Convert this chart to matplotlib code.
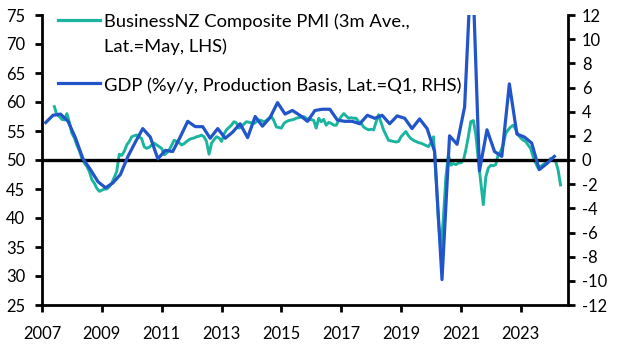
import matplotlib
matplotlib.use('Agg')
import matplotlib.dates as mdates
import matplotlib.pyplot as plt
import pandas as pd

plt.rcParams['font.family'] = ['Lato', 'DejaVu Sans']
plt.rcParams['font.size'] = 11.9
plt.rcParams['axes.unicode_minus'] = False

TEAL = '#1bb59f'
BLUE = '#2255c9'

# ==== BusinessNZ composite PMI, 3m average, monthly from Jun 2007 to May 2024
pmi_2007 = [59.2, 57.8, 57.5, 57.0, 56.9, 58.0, 56.5]
pmi_2008 = [54.6, 53.8, 52.6, 51.6, 50.3, 49.5, 48.9, 48.0, 46.6, 46.0, 45.1, 44.6]
pmi_2009 = [44.8, 45.0, 45.0, 45.4, 46.0, 47.0, 48.0, 51.0, 50.8, 51.5, 52.6, 53.2]
pmi_2010 = [54.0, 54.2, 54.3, 54.0, 53.7, 52.3, 52.0, 52.2, 52.6, 52.9, 52.6, 52.3]
pmi_2011 = [52.0, 50.9, 51.2, 51.7, 52.5, 53.4, 53.2, 53.0, 52.6, 52.8, 53.2, 53.5]
pmi_2012 = [53.7, 53.8, 54.0, 54.1, 54.3, 54.0, 53.2, 51.0, 52.9, 53.5, 54.0, 53.8]
pmi_2013 = [53.2, 54.5, 55.2, 55.6, 56.0, 56.6, 56.4, 55.5, 55.8, 56.2, 56.6, 56.5]
pmi_2014 = [56.4, 56.3, 56.6, 56.9, 56.8, 56.6, 56.8, 57.2, 57.5, 56.8, 55.7, 55.6]
pmi_2015 = [55.5, 56.3, 56.6, 56.8, 56.9, 57.0, 57.2, 57.3, 57.4, 57.5, 57.2, 56.9]
pmi_2016 = [57.0, 56.8, 55.5, 57.2, 56.6, 57.0, 56.0, 56.5, 56.3, 56.0, 56.0, 56.8]
pmi_2017 = [57.5, 58.0, 57.6, 57.2, 57.3, 57.2, 57.2, 56.6, 56.3, 55.7, 55.4, 55.2]
pmi_2018 = [55.3, 55.2, 56.5, 57.8, 56.5, 55.2, 54.3, 53.4, 53.3, 53.2, 53.1, 53.2]
pmi_2019 = [54.0, 54.5, 54.9, 54.2, 53.7, 53.4, 53.2, 53.0, 52.9, 52.7, 52.5, 52.3]
pmi_2020 = [53.0, 54.0, 47.5, 39.5, 34.5, 40.0, 47.0, 50.9, 49.1, 49.4, 49.2, 49.5]
pmi_2021 = [49.5, 50.0, 51.7, 54.0, 56.6, 56.8, 54.5, 50.0, 46.0, 42.3, 47.1, 48.6]
pmi_2022 = [49.1, 49.0, 49.2, 50.9, 51.5, 52.6, 54.6, 55.2, 55.7, 56.0, 55.3, 54.3]
pmi_2023 = [53.8, 53.4, 53.2, 52.6, 52.0, 50.6, 49.5, 48.6, 48.9, 49.2, 49.5, 49.7]
pmi_2024 = [50.3, 50.0, 49.8, 48.3, 45.7]

pmi = (pmi_2007 + pmi_2008 + pmi_2009 + pmi_2010 + pmi_2011 + pmi_2012
       + pmi_2013 + pmi_2014 + pmi_2015 + pmi_2016 + pmi_2017 + pmi_2018
       + pmi_2019 + pmi_2020 + pmi_2021 + pmi_2022 + pmi_2023 + pmi_2024)

# ==== GDP %y/y (production basis), quarterly from 2007Q1 to 2024Q1
gdp = [3.1, 3.7, 3.8, 3.2,
       1.8, 0.1, -0.8, -1.8,
       -2.3, -1.9, -1.2, 0.3,
       1.5, 2.6, 1.9, 0.1,
       0.8, 0.7, 1.9, 3.2,
       2.76, 2.76, 1.8, 2.6,
       1.8, 2.3, 3.0, 1.85,
       3.6, 2.8, 3.5, 4.75,
       3.8, 4.1, 3.7, 3.2,
       4.1, 4.2, 4.2, 3.3,
       3.2, 3.2, 3.0, 3.7,
       3.45, 3.7, 3.0, 3.65,
       3.45, 2.6, 3.4, 2.6,
       0.7, -9.9, 2.0, 1.3,
       4.4, 17.4, -0.9, 2.5,
       0.7, 0.3, 6.3, 2.15,
       1.9, 1.4, -0.8, -0.3,
       0.3]

pmi_dates = pd.date_range('2007-06-01', periods=len(pmi), freq='MS')
gdp_dates = pd.date_range('2007-02-01', periods=len(gdp), freq='3MS') + pd.Timedelta(days=14)

year_ticks = [pd.Timestamp(f'{y}-01-01') for y in range(2007, 2024, 2)]

fig = plt.figure(figsize=(6.27, 3.53), dpi=100)
ax1 = fig.add_axes([42 / 627, 48 / 353, 526 / 627, 290 / 353])
ax2 = ax1.twinx()

ax1.plot(pmi_dates, pmi, color=TEAL, lw=2.1)
ax2.axhline(0, color='black', lw=2.4, zorder=1)
ax2.plot(gdp_dates, gdp, color=BLUE, lw=2.3, zorder=2)

ax1.set_ylim(25, 75)
ax1.set_yticks(range(25, 80, 5))
ax2.set_ylim(-12, 12)
ax2.set_yticks(range(-12, 14, 2))
ax1.set_xlim(pd.Timestamp('2007-01-01'), pd.Timestamp('2024-07-31'))
ax1.set_xticks(year_ticks)
ax1.xaxis.set_major_formatter(mdates.DateFormatter('%Y'))

for ax in (ax1, ax2):
    ax.spines['top'].set_visible(False)
    for s in ('left', 'right', 'bottom'):
        ax.spines[s].set_linewidth(2)
ax1.spines['right'].set_visible(False)
ax2.spines['left'].set_visible(False)
ax2.spines['bottom'].set_visible(False)

ax1.tick_params(axis='y', direction='out', length=5, width=2, pad=7)
ax1.tick_params(axis='x', direction='out', length=5, width=2, pad=10)
ax2.tick_params(axis='y', direction='out', length=5, width=2, pad=5)

# legend drawn by hand, no frame
leg_size = 13.2
ax1.plot([0.030, 0.110], [0.983, 0.983], transform=ax1.transAxes, color=TEAL, lw=2.3, clip_on=False)
ax1.text(0.118, 0.960, 'BusinessNZ Composite PMI (3m Ave.,', transform=ax1.transAxes,
         va='baseline', fontsize=leg_size)
ax1.text(0.118, 0.872, 'Lat.=May, LHS)', transform=ax1.transAxes, va='baseline', fontsize=leg_size)
ax1.plot([0.030, 0.110], [0.764, 0.764], transform=ax1.transAxes, color=BLUE, lw=2.3, clip_on=False)
ax1.text(0.118, 0.738, 'GDP (%y/y, Production Basis, Lat.=Q1, RHS)', transform=ax1.transAxes,
         va='baseline', fontsize=leg_size)

fig.savefig('out.png', dpi=100)
